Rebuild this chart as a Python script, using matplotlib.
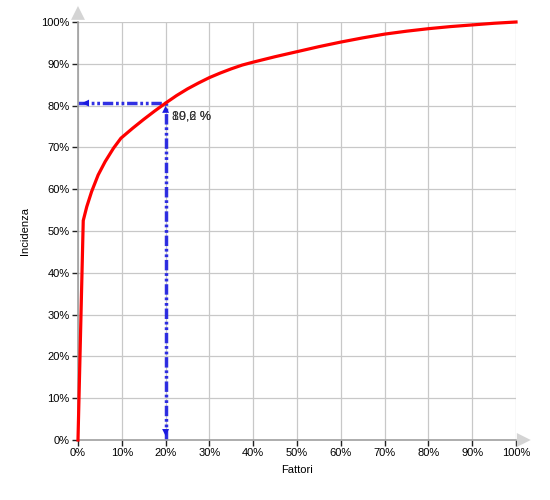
import matplotlib
matplotlib.use('Agg')
import matplotlib.pyplot as plt
from matplotlib.ticker import MultipleLocator, FuncFormatter

plt.rcParams['font.family'] = ['Liberation Sans', 'DejaVu Sans']

# cumulative curve (Fattori % -> Incidenza %)
fattori = [0, 1.2, 2.0, 3.1, 4.6, 6.2, 8.1, 9.8, 12.5, 15, 17.5, 20, 22.5, 25, 27.5, 30, 32.5,
           35, 37.5, 40, 45, 50, 55, 60, 65, 70, 75, 80, 85, 90, 95, 100]
incidenza = [0, 52.5, 55.8, 59.4, 63.4, 66.6, 69.8, 72.2, 74.6, 76.7, 78.7, 80.6, 82.4, 84.0, 85.4,
             86.7, 87.8, 88.8, 89.7, 90.4, 91.7, 92.9, 94.1, 95.2, 96.2, 97.1, 97.8, 98.4, 98.9, 99.3, 99.7, 100]

# reference point
ref_x = 20.0
ref_y = 80.6
lbl_y = "80,6 %"
lbl_x = "19,2 %"

fig = plt.figure(figsize=(5.5, 5), dpi=100)
ax = fig.add_axes([0.1418, 0.12, 0.7964, 0.836])

ax.set_xlim(0, 100)
ax.set_ylim(0, 100)
ax.xaxis.set_major_locator(MultipleLocator(10))
ax.yaxis.set_major_locator(MultipleLocator(10))
pct = FuncFormatter(lambda v, p: f"{v:.0f}%")
ax.xaxis.set_major_formatter(pct)
ax.yaxis.set_major_formatter(pct)
ax.grid(True, color='#c8c8c8', linewidth=0.9)
ax.set_axisbelow(True)

for s in ['top', 'right']:
    ax.spines[s].set_visible(False)
for s in ['left', 'bottom']:
    ax.spines[s].set_color('#a0a0a0')
    ax.spines[s].set_linewidth(1.2)
ax.tick_params(length=4, width=1, color='#222222', labelsize=8, pad=2)

# axis arrow heads
ax.annotate('', xy=(0, 104.5), xytext=(0, 101.5), xycoords='data', annotation_clip=False,
            arrowprops=dict(arrowstyle='-|>,head_width=0.5,head_length=1.0', color='#d4d4d4', lw=0))
ax.annotate('', xy=(104, 0), xytext=(101, 0), xycoords='data', annotation_clip=False,
            arrowprops=dict(arrowstyle='-|>,head_width=0.5,head_length=1.0', color='#d4d4d4', lw=0))

# dashed guide lines
guide = dict(color='#1a1ae0', lw=2.5, linestyle=(0, (3, 0.8, 0.8, 0.8, 0.8, 0.8)), alpha=0.9)
ax.plot([0, ref_x], [ref_y, ref_y], **guide, clip_on=False)
ax.plot([ref_x, ref_x], [0, ref_y], **guide, clip_on=False)
ah = dict(arrowstyle='-|>,head_width=0.25,head_length=0.5', color='#1a1ae0', lw=0)
ax.annotate('', xy=(0.3, ref_y), xytext=(3, ref_y), arrowprops=ah)
ax.annotate('', xy=(ref_x, 0.3), xytext=(ref_x, 3), arrowprops=ah)
ax.annotate('', xy=(ref_x, ref_y), xytext=(ref_x, ref_y - 3), arrowprops=ah)

ax.plot(fattori, incidenza, color='red', lw=2.3, solid_joinstyle='round', clip_on=False, zorder=5)

ax.text(ref_x + 1.5, ref_y - 3.3, lbl_y, fontsize=9, color='#333333', ha='left', va='center', zorder=6)
ax.text(ref_x + 1.5, ref_y - 3.3, lbl_x, fontsize=9, color='#333333', ha='left', va='center', zorder=6)

ax.set_xlabel('Fattori', fontsize=8, labelpad=5)
ax.set_ylabel('Incidenza', fontsize=8, labelpad=8)

fig.savefig('out.png', dpi=100)
